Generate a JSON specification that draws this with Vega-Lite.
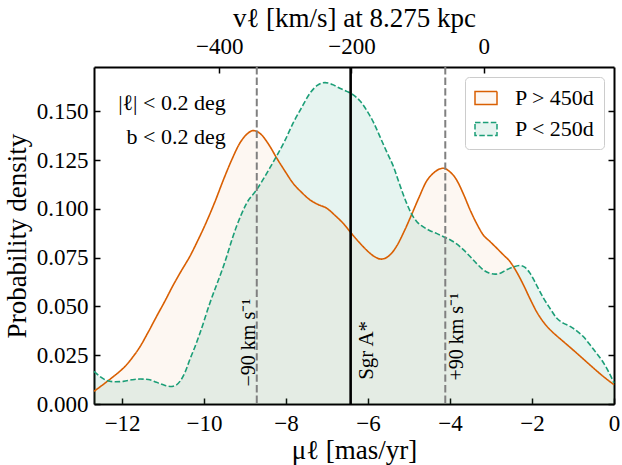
{
  "$schema": "https://vega.github.io/schema/vega-lite/v6.json",
  "width": 520,
  "height": 337,
  "autosize": {"type": "none"},
  "padding": {"left": 94, "top": 67, "right": 8, "bottom": 61},
  "background": "white",
  "config": {
    "font": "Liberation Serif",
    "view": {"stroke": null},
    "axis": {
      "domainColor": "black", "domainWidth": 2, "tickColor": "black", "tickWidth": 1.5, "tickSize": -6,
      "labelFont": "Liberation Serif", "labelFontSize": 23, "labelColor": "black",
      "titleFont": "Liberation Serif", "titleFontSize": 27, "titleFontWeight": "normal", "titleColor": "black",
      "grid": false, "labelFlush": false, "labelOverlap": false, "zindex": 1
    },
    "legend": {
      "orient": "top-right", "offset": 10, "padding": 9, "fillColor": "white", "strokeColor": "#cccccc",
      "cornerRadius": 4, "symbolType": "M-1,-0.6H1V0.6H-1Z", "symbolSize": 484, "symbolStrokeWidth": 1.5,
      "labelFont": "Liberation Serif", "labelFontSize": 22, "labelColor": "black", "labelOffset": 17, "rowPadding": 8
    }
  },
  "datasets": {
    "kde": [
      {"mu": -12.686, "density": 0.0065, "series": "P > 450d"},
      {"mu": -12.4, "density": 0.011, "series": "P > 450d"},
      {"mu": -12.1, "density": 0.016, "series": "P > 450d"},
      {"mu": -11.97, "density": 0.0184, "series": "P > 450d"},
      {"mu": -11.76, "density": 0.0235, "series": "P > 450d"},
      {"mu": -11.56, "density": 0.0295, "series": "P > 450d"},
      {"mu": -11.36, "density": 0.037, "series": "P > 450d"},
      {"mu": -11.16, "density": 0.0449, "series": "P > 450d"},
      {"mu": -10.95, "density": 0.053, "series": "P > 450d"},
      {"mu": -10.75, "density": 0.0611, "series": "P > 450d"},
      {"mu": -10.55, "density": 0.0685, "series": "P > 450d"},
      {"mu": -10.35, "density": 0.0756, "series": "P > 450d"},
      {"mu": -10.15, "density": 0.084, "series": "P > 450d"},
      {"mu": -9.94, "density": 0.0935, "series": "P > 450d"},
      {"mu": -9.73, "density": 0.104, "series": "P > 450d"},
      {"mu": -9.53, "density": 0.1149, "series": "P > 450d"},
      {"mu": -9.33, "density": 0.125, "series": "P > 450d"},
      {"mu": -9.13, "density": 0.1337, "series": "P > 450d"},
      {"mu": -8.95, "density": 0.1385, "series": "P > 450d"},
      {"mu": -8.8, "density": 0.1402, "series": "P > 450d"},
      {"mu": -8.64, "density": 0.1388, "series": "P > 450d"},
      {"mu": -8.4, "density": 0.1323, "series": "P > 450d"},
      {"mu": -8.24, "density": 0.1265, "series": "P > 450d"},
      {"mu": -8.03, "density": 0.1195, "series": "P > 450d"},
      {"mu": -7.83, "density": 0.1132, "series": "P > 450d"},
      {"mu": -7.62, "density": 0.1085, "series": "P > 450d"},
      {"mu": -7.42, "density": 0.1047, "series": "P > 450d"},
      {"mu": -7.21, "density": 0.1022, "series": "P > 450d"},
      {"mu": -7.01, "density": 0.1004, "series": "P > 450d"},
      {"mu": -6.81, "density": 0.0968, "series": "P > 450d"},
      {"mu": -6.61, "density": 0.0927, "series": "P > 450d"},
      {"mu": -6.41, "density": 0.0876, "series": "P > 450d"},
      {"mu": -6.22, "density": 0.083, "series": "P > 450d"},
      {"mu": -6.04, "density": 0.079, "series": "P > 450d"},
      {"mu": -5.86, "density": 0.0758, "series": "P > 450d"},
      {"mu": -5.68, "density": 0.0743, "series": "P > 450d"},
      {"mu": -5.5, "density": 0.0758, "series": "P > 450d"},
      {"mu": -5.31, "density": 0.0807, "series": "P > 450d"},
      {"mu": -5.12, "density": 0.0885, "series": "P > 450d"},
      {"mu": -4.94, "density": 0.097, "series": "P > 450d"},
      {"mu": -4.76, "density": 0.1058, "series": "P > 450d"},
      {"mu": -4.58, "density": 0.114, "series": "P > 450d"},
      {"mu": -4.4, "density": 0.1185, "series": "P > 450d"},
      {"mu": -4.17, "density": 0.1209, "series": "P > 450d"},
      {"mu": -4.0, "density": 0.119, "series": "P > 450d"},
      {"mu": -3.84, "density": 0.1149, "series": "P > 450d"},
      {"mu": -3.67, "density": 0.1075, "series": "P > 450d"},
      {"mu": -3.51, "density": 0.0995, "series": "P > 450d"},
      {"mu": -3.35, "density": 0.0925, "series": "P > 450d"},
      {"mu": -3.19, "density": 0.0867, "series": "P > 450d"},
      {"mu": -3.02, "density": 0.0832, "series": "P > 450d"},
      {"mu": -2.86, "density": 0.0799, "series": "P > 450d"},
      {"mu": -2.7, "density": 0.0765, "series": "P > 450d"},
      {"mu": -2.54, "density": 0.0731, "series": "P > 450d"},
      {"mu": -2.37, "density": 0.0675, "series": "P > 450d"},
      {"mu": -2.21, "density": 0.0611, "series": "P > 450d"},
      {"mu": -2.05, "density": 0.054, "series": "P > 450d"},
      {"mu": -1.89, "density": 0.0474, "series": "P > 450d"},
      {"mu": -1.72, "density": 0.042, "series": "P > 450d"},
      {"mu": -1.56, "density": 0.0381, "series": "P > 450d"},
      {"mu": -1.4, "density": 0.035, "series": "P > 450d"},
      {"mu": -1.24, "density": 0.0321, "series": "P > 450d"},
      {"mu": -0.91, "density": 0.0261, "series": "P > 450d"},
      {"mu": -0.59, "density": 0.0201, "series": "P > 450d"},
      {"mu": -0.26, "density": 0.0141, "series": "P > 450d"},
      {"mu": 0, "density": 0.0099, "series": "P > 450d"},
      {"mu": -12.686, "density": 0.0167, "series": "P < 250d"},
      {"mu": -12.5, "density": 0.0135, "series": "P < 250d"},
      {"mu": -12.38, "density": 0.0121, "series": "P < 250d"},
      {"mu": -12.17, "density": 0.0114, "series": "P < 250d"},
      {"mu": -11.97, "density": 0.0116, "series": "P < 250d"},
      {"mu": -11.76, "density": 0.0124, "series": "P < 250d"},
      {"mu": -11.56, "density": 0.0128, "series": "P < 250d"},
      {"mu": -11.36, "density": 0.0126, "series": "P < 250d"},
      {"mu": -11.16, "density": 0.0111, "series": "P < 250d"},
      {"mu": -10.95, "density": 0.0095, "series": "P < 250d"},
      {"mu": -10.83, "density": 0.009, "series": "P < 250d"},
      {"mu": -10.7, "density": 0.0095, "series": "P < 250d"},
      {"mu": -10.59, "density": 0.0116, "series": "P < 250d"},
      {"mu": -10.47, "density": 0.016, "series": "P < 250d"},
      {"mu": -10.35, "density": 0.0227, "series": "P < 250d"},
      {"mu": -10.22, "density": 0.0295, "series": "P < 250d"},
      {"mu": -10.1, "density": 0.0364, "series": "P < 250d"},
      {"mu": -9.86, "density": 0.0517, "series": "P < 250d"},
      {"mu": -9.53, "density": 0.0705, "series": "P < 250d"},
      {"mu": -9.21, "density": 0.091, "series": "P < 250d"},
      {"mu": -8.96, "density": 0.103, "series": "P < 250d"},
      {"mu": -8.72, "density": 0.1098, "series": "P < 250d"},
      {"mu": -8.4, "density": 0.1209, "series": "P < 250d"},
      {"mu": -8.24, "density": 0.1268, "series": "P < 250d"},
      {"mu": -8.03, "density": 0.135, "series": "P < 250d"},
      {"mu": -7.83, "density": 0.144, "series": "P < 250d"},
      {"mu": -7.62, "density": 0.152, "series": "P < 250d"},
      {"mu": -7.42, "density": 0.1593, "series": "P < 250d"},
      {"mu": -7.23, "density": 0.1635, "series": "P < 250d"},
      {"mu": -7.05, "density": 0.1648, "series": "P < 250d"},
      {"mu": -6.87, "density": 0.1638, "series": "P < 250d"},
      {"mu": -6.69, "density": 0.1619, "series": "P < 250d"},
      {"mu": -6.52, "density": 0.1603, "series": "P < 250d"},
      {"mu": -6.36, "density": 0.1585, "series": "P < 250d"},
      {"mu": -6.2, "density": 0.1555, "series": "P < 250d"},
      {"mu": -6.04, "density": 0.1508, "series": "P < 250d"},
      {"mu": -5.87, "density": 0.1445, "series": "P < 250d"},
      {"mu": -5.71, "density": 0.1371, "series": "P < 250d"},
      {"mu": -5.55, "density": 0.1295, "series": "P < 250d"},
      {"mu": -5.38, "density": 0.1217, "series": "P < 250d"},
      {"mu": -5.22, "density": 0.112, "series": "P < 250d"},
      {"mu": -5.06, "density": 0.103, "series": "P < 250d"},
      {"mu": -4.94, "density": 0.0975, "series": "P < 250d"},
      {"mu": -4.81, "density": 0.0935, "series": "P < 250d"},
      {"mu": -4.65, "density": 0.0908, "series": "P < 250d"},
      {"mu": -4.5, "density": 0.089, "series": "P < 250d"},
      {"mu": -4.33, "density": 0.0875, "series": "P < 250d"},
      {"mu": -4.17, "density": 0.0859, "series": "P < 250d"},
      {"mu": -4.0, "density": 0.0842, "series": "P < 250d"},
      {"mu": -3.84, "density": 0.0821, "series": "P < 250d"},
      {"mu": -3.67, "density": 0.079, "series": "P < 250d"},
      {"mu": -3.51, "density": 0.0756, "series": "P < 250d"},
      {"mu": -3.35, "density": 0.072, "series": "P < 250d"},
      {"mu": -3.19, "density": 0.0688, "series": "P < 250d"},
      {"mu": -3.05, "density": 0.0672, "series": "P < 250d"},
      {"mu": -2.9, "density": 0.0666, "series": "P < 250d"},
      {"mu": -2.76, "density": 0.0672, "series": "P < 250d"},
      {"mu": -2.62, "density": 0.0688, "series": "P < 250d"},
      {"mu": -2.45, "density": 0.0703, "series": "P < 250d"},
      {"mu": -2.29, "density": 0.071, "series": "P < 250d"},
      {"mu": -2.17, "density": 0.07, "series": "P < 250d"},
      {"mu": -2.05, "density": 0.0671, "series": "P < 250d"},
      {"mu": -1.89, "density": 0.061, "series": "P < 250d"},
      {"mu": -1.72, "density": 0.0543, "series": "P < 250d"},
      {"mu": -1.56, "density": 0.049, "series": "P < 250d"},
      {"mu": -1.4, "density": 0.0441, "series": "P < 250d"},
      {"mu": -1.24, "density": 0.0415, "series": "P < 250d"},
      {"mu": -1.07, "density": 0.0398, "series": "P < 250d"},
      {"mu": -0.91, "density": 0.0375, "series": "P < 250d"},
      {"mu": -0.75, "density": 0.0346, "series": "P < 250d"},
      {"mu": -0.59, "density": 0.0305, "series": "P < 250d"},
      {"mu": -0.43, "density": 0.0261, "series": "P < 250d"},
      {"mu": -0.3, "density": 0.0225, "series": "P < 250d"},
      {"mu": -0.18, "density": 0.0184, "series": "P < 250d"},
      {"mu": 0, "density": 0.0108, "series": "P < 250d"}
    ]
  },
  "layer": [
    {
      "data": {"name": "kde"},
      "layer": [
        {
          "mark": {"type": "area", "interpolate": "monotone"},
          "encoding": {
            "x": {"field": "mu", "type": "quantitative", "scale": {"domain": [-12.686, 0], "nice": false, "zero": false},
                  "axis": {"orient": "bottom", "values": [-12, -10, -8, -6, -4, -2, 0], "format": "d", "title": "μℓ [mas/yr]", "labelPadding": 14.5, "titlePadding": 2}},
            "y": {"field": "density", "type": "quantitative", "stack": null, "scale": {"domain": [0, 0.1728], "nice": false},
                  "axis": {"orient": "left", "values": [0, 0.025, 0.05, 0.075, 0.1, 0.125, 0.15], "format": ".3f", "title": "Probability density", "labelPadding": 12, "titlePadding": 5}},
            "fill": {"field": "series", "type": "nominal", "title": null,
                     "scale": {"domain": ["P > 450d", "P < 250d"], "range": ["rgba(217,95,2,0.05)", "rgba(27,158,119,0.11)"]}}
          }
        },
        {
          "mark": {"type": "line", "interpolate": "monotone", "strokeWidth": 1.6},
          "encoding": {
            "x": {"field": "mu", "type": "quantitative"},
            "y": {"field": "density", "type": "quantitative"},
            "stroke": {"field": "series", "type": "nominal", "title": null,
                       "scale": {"domain": ["P > 450d", "P < 250d"], "range": ["#d95f02", "#1b9e77"]}},
            "strokeDash": {"field": "series", "type": "nominal", "title": null,
                           "scale": {"domain": ["P > 450d", "P < 250d"], "range": [[1, 0], [5.5, 2.4]]}}
          }
        },
        {
          "data": {"values": [{}]},
          "mark": {"type": "rule", "color": "#808080", "strokeWidth": 2, "strokeDash": [7.4, 3.2]},
          "encoding": {"x": {"datum": -8.715}}
        },
        {
          "data": {"values": [{}]},
          "mark": {"type": "rule", "color": "#808080", "strokeWidth": 2, "strokeDash": [7.4, 3.2]},
          "encoding": {"x": {"datum": -4.116}}
        },
        {
          "data": {"values": [{}]},
          "mark": {"type": "rule", "color": "black", "strokeWidth": 2.6},
          "encoding": {"x": {"datum": -6.425}}
        },
        {
          "data": {"values": [{}]},
          "mark": {"type": "text", "text": "−90 km s⁻¹", "angle": 270, "align": "left", "baseline": "bottom", "dy": 2, "fontSize": 20, "font": "Liberation Serif", "color": "black"},
          "encoding": {"x": {"datum": -8.715}, "y": {"datum": 0.009}}
        },
        {
          "data": {"values": [{}]},
          "mark": {"type": "text", "text": "+90 km s⁻¹", "angle": 270, "align": "left", "baseline": "top", "dy": 2, "fontSize": 20, "font": "Liberation Serif", "color": "black"},
          "encoding": {"x": {"datum": -4.116}, "y": {"datum": 0.012}}
        },
        {
          "data": {"values": [{}]},
          "mark": {"type": "text", "text": "Sgr A*", "angle": 270, "align": "left", "baseline": "top", "dy": 5, "fontSize": 21, "font": "Liberation Serif", "color": "black"},
          "encoding": {"x": {"datum": -6.425}, "y": {"datum": 0.0124}}
        },
        {
          "data": {"values": [{}]},
          "mark": {"type": "text", "text": "|ℓ| < 0.2 deg", "align": "right", "baseline": "middle", "fontSize": 22, "font": "Liberation Serif", "color": "black"},
          "encoding": {"x": {"datum": -9.473}, "y": {"datum": 0.1542}}
        },
        {
          "data": {"values": [{}]},
          "mark": {"type": "text", "text": "b < 0.2 deg", "align": "right", "baseline": "middle", "fontSize": 22, "font": "Liberation Serif", "color": "black"},
          "encoding": {"x": {"datum": -9.473}, "y": {"datum": 0.1371}}
        }
      ]
    },
    {
      "data": {"values": [{}]},
      "mark": {"type": "rule", "opacity": 0},
      "encoding": {
        "x": {"datum": 0, "type": "quantitative", "scale": {"domain": [-589.2, 197], "nice": false, "zero": false},
              "axis": {"orient": "top", "values": [-400, -200, 0], "format": "d", "title": "vℓ [km/s] at 8.275 kpc", "labelPadding": 14.5, "titlePadding": 3}},
        "y": {"datum": 0, "type": "quantitative", "scale": {"domain": [0, 0.1728], "nice": false},
              "axis": {"orient": "right", "values": [0, 0.025, 0.05, 0.075, 0.1, 0.125, 0.15], "labels": false, "title": null}}
      }
    }
  ],
  "resolve": {"scale": {"x": "independent"}, "axis": {"x": "independent", "y": "independent"}}
}
